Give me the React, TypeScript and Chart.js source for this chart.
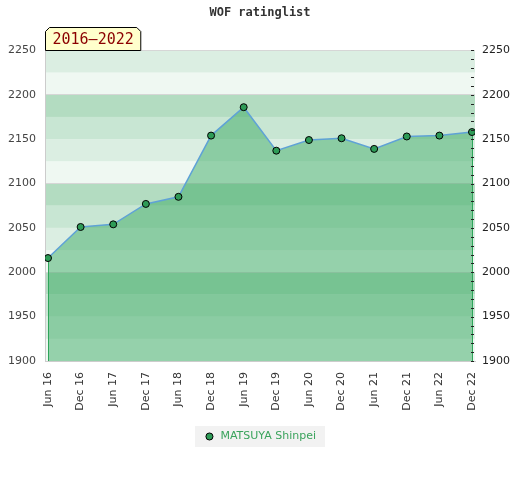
import React, { useEffect, useRef } from 'react';
import { Chart, registerables } from 'chart.js';

Chart.register(...registerables);

const categories = ['Jun 16', 'Dec 16', 'Jun 17', 'Dec 17', 'Jun 18', 'Dec 18', 'Jun 19', 'Dec 19', 'Jun 20', 'Dec 20', 'Jun 21', 'Dec 21', 'Jun 22', 'Dec 22'];
const ratings = [2016, 2051, 2054, 2077, 2085, 2154, 2186, 2137, 2149, 2151, 2139, 2153, 2154, 2158];
const playerName = 'MATSUYA Shinpei';
const periodLabel = '2016–2022';
const chartTitle = 'WOF ratinglist';
const yMin = 1900;
const yMax = 2250;

const BAND_STEP = 25;
const BAND_COLORS = ['#eff8f2', '#dbeee2', '#c8e6d3', '#b3dcc1'];

const bandsPlugin = {
  id: 'bands',
  beforeDraw(chart: any) {
    const { ctx, chartArea } = chart;
    const y = chart.scales.y;
    ctx.save();
    for (let v = yMin; v < yMax; v += BAND_STEP) {
      const idx = Math.round((((v % 100) + 100) % 100) / BAND_STEP) % 4;
      const top = y.getPixelForValue(v + BAND_STEP);
      const bot = y.getPixelForValue(v);
      ctx.fillStyle = BAND_COLORS[idx];
      ctx.fillRect(chartArea.left, top, chartArea.right - chartArea.left, bot - top);
    }
    // legend background
    const lg = chart.legend;
    if (lg && lg.legendHitBoxes && lg.legendHitBoxes.length) {
      const hb = lg.legendHitBoxes[0];
      ctx.fillStyle = '#f2f2f2';
      ctx.fillRect(hb.left - 9, hb.top - 5, hb.width + 18, hb.height + 10);
    }
    ctx.restore();
  },
};

const edgesPlugin = {
  id: 'edges',
  afterDatasetsDraw(chart: any) {
    const { ctx, chartArea } = chart;
    const meta = chart.getDatasetMeta(0);
    const pts = meta.data;
    if (!pts.length) return;
    ctx.save();
    ctx.strokeStyle = '#2ea55a';
    ctx.lineWidth = 1;
    [pts[0], pts[pts.length - 1]].forEach((p: any) => {
      const x = Math.round(p.x) + 0.5;
      ctx.beginPath();
      ctx.moveTo(x, p.y + 4);
      ctx.lineTo(x, chartArea.bottom);
      ctx.stroke();
    });
    // inward minor ticks on right axis
    const s = chart.scales.y2;
    ctx.strokeStyle = '#222';
    s.ticks.forEach((t: any) => {
      const yy = Math.round(s.getPixelForValue(t.value)) + 0.5;
      ctx.beginPath();
      ctx.moveTo(chartArea.right - 4, yy);
      ctx.lineTo(chartArea.right - 1, yy);
      ctx.stroke();
    });
    ctx.restore();
  },
};

const periodBoxPlugin = {
  id: 'periodBox',
  afterDraw(chart: any) {
    const { ctx, chartArea } = chart;
    ctx.save();
    ctx.font = '15px "DejaVu Sans Mono"';
    const tw = ctx.measureText(periodLabel).width;
    const left = chartArea.left + 0.5;
    const bottom = Math.round(chartArea.top) + 0.5;
    const top = bottom - 23;
    const right = left + tw + 14;
    const c = 4;
    ctx.beginPath();
    ctx.moveTo(left, bottom);
    ctx.lineTo(left, top + c);
    ctx.lineTo(left + c, top);
    ctx.lineTo(right - c, top);
    ctx.lineTo(right, top + c);
    ctx.lineTo(right, bottom);
    ctx.closePath();
    ctx.fillStyle = '#ffffcc';
    ctx.fill();
    ctx.strokeStyle = '#000';
    ctx.lineWidth = 1;
    ctx.stroke();
    ctx.fillStyle = '#8b0000';
    ctx.textBaseline = 'middle';
    ctx.textAlign = 'left';
    ctx.fillText(periodLabel, left + 7, top + 12.5);
    ctx.restore();
  },
};

export default function App() {
  const ref = useRef<HTMLCanvasElement | null>(null);

  useEffect(() => {
    document.body.style.margin = '0';
    if (!ref.current) return;
    Chart.defaults.font.family = '"DejaVu Sans"';
    const chart = new Chart(ref.current, {
      type: 'line',
      data: {
        datasets: [
          {
            label: playerName,
            data: ratings.map((v, i) => ({ x: i, y: v })),
            borderColor: '#5fa2d6',
            borderWidth: 1.5,
            backgroundColor: 'rgba(60,170,100,0.5)',
            fill: 'start',
            tension: 0,
            pointStyle: 'circle',
            pointRadius: 3.5,
            pointBackgroundColor: '#2e9b57',
            pointBorderColor: '#000',
            pointBorderWidth: 1,
          },
        ],
      },
      options: {
        animation: false,
        responsive: false,
        layout: { padding: { bottom: 28, left: 0, right: 0, top: 0 } },
        scales: {
          x: {
            type: 'linear',
            min: -0.092,
            max: categories.length - 1 + 0.092,
            afterBuildTicks: (scale: any) => {
              scale.ticks = categories.map((_, i) => ({ value: i }));
            },
            afterFit: (scale: any) => {
              scale.height = 60;
            },
            ticks: {
              autoSkip: false,
              minRotation: 90,
              maxRotation: 90,
              padding: 11,
              color: '#333',
              font: { size: 11 },
              callback: (v: any) => categories[v] ?? '',
            },
            grid: { display: false, drawTicks: false },
            border: { display: true, color: '#cccccc' },
          },
          y: {
            position: 'left',
            min: yMin,
            max: yMax,
            afterFit: (scale: any) => {
              scale.width = 45;
            },
            ticks: {
              stepSize: 50,
              padding: 9,
              color: '#444',
              font: { size: 11 },
              callback: (v: any) => String(v),
            },
            grid: {
              drawTicks: false,
              color: (c: any) => {
                const v = c.tick ? c.tick.value : 0;
                return v % 100 === 0 || v === yMax ? '#d6d6d6' : 'rgba(0,0,0,0)';
              },
            },
            border: { display: true, color: '#cccccc' },
          },
          y2: {
            position: 'right',
            min: yMin,
            max: yMax,
            afterFit: (scale: any) => {
              scale.width = 45;
            },
            ticks: {
              stepSize: 10,
              autoSkip: false,
              padding: 7,
              color: '#222',
              font: { size: 11 },
              callback: (v: any) => (Number(v) % 50 === 0 ? String(v) : ''),
            },
            grid: { display: false, drawTicks: false },
            border: { display: false },
          },
        },
        plugins: {
          title: {
            display: true,
            text: chartTitle,
            color: '#333',
            font: { family: '"DejaVu Sans Mono"', size: 12, weight: 'bold' },
            padding: { top: 6, bottom: 30 },
          },
          legend: {
            position: 'bottom',
            labels: {
              usePointStyle: true,
              boxHeight: 5,
              boxWidth: 11,
              padding: 10,
              color: '#3aa35c',
              font: { size: 11 },
            },
          },
          tooltip: { enabled: false },
        },
      },
      plugins: [bandsPlugin, edgesPlugin, periodBoxPlugin],
    } as any);
    return () => chart.destroy();
  }, []);

  return (
    <div style={{ position: 'absolute', left: 0, top: 0, width: 520, height: 480 }}>
      <canvas ref={ref} width={520} height={480} />
    </div>
  );
}
